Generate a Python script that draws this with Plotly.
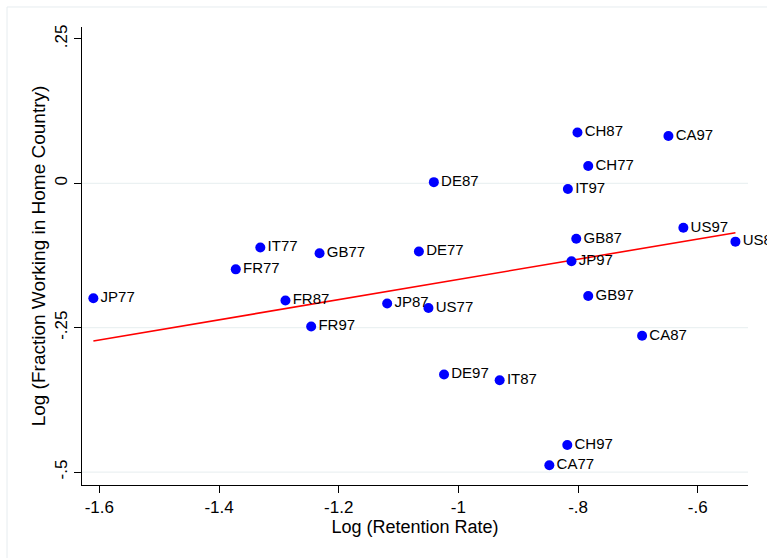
import plotly.graph_objects as go

# Country-year observations
labels = ["JP77", "JP87", "JP97",
          "FR77", "FR87", "FR97",
          "IT77", "IT87", "IT97",
          "GB77", "GB87", "GB97",
          "DE77", "DE87", "DE97",
          "US77", "US87", "US97",
          "CH77", "CH87", "CH97",
          "CA77", "CA87", "CA97"]
log_retention = [-1.610, -1.119, -0.811,
                 -1.372, -1.289, -1.246,
                 -1.331, -0.931, -0.817,
                 -1.232, -0.803, -0.783,
                 -1.066, -1.041, -1.024,
                 -1.050, -0.537, -0.624,
                 -0.783, -0.801, -0.818,
                 -0.848, -0.693, -0.649]
log_fraction_home = [-0.199, -0.208, -0.135,
                     -0.149, -0.203, -0.248,
                     -0.111, -0.341, -0.010,
                     -0.121, -0.096, -0.195,
                     -0.118, 0.002, -0.331,
                     -0.216, -0.101, -0.077,
                     0.030, 0.088, -0.453,
                     -0.488, -0.264, 0.082]

# Fitted regression line, evaluated at the ends of the data range
fit_x = [-1.610, -0.537]
fit_y = [-0.273, -0.0855]

x_ticks = [-1.6, -1.4, -1.2, -1.0, -0.8, -0.6]
x_tick_text = ["-1.6", "-1.4", "-1.2", "-1", "-.8", "-.6"]
y_ticks = [0.25, 0.0, -0.25, -0.5]
y_tick_text = [".25", "0", "-.25", "-.5"]
grid_values = [0.0, -0.25, -0.5]

FONT = "Liberation Sans, Arial, sans-serif"

fig = go.Figure()
fig.add_trace(go.Scatter(
    x=fit_x, y=fit_y, mode="lines",
    line=dict(color="#ff0000", width=1.6),
    hoverinfo="skip", showlegend=False,
))
fig.add_trace(go.Scatter(
    x=log_retention, y=log_fraction_home, mode="markers+text",
    text=labels, textposition="middle right",
    textfont=dict(family=FONT, size=15, color="#000000"),
    marker=dict(color="#0000ff", size=10, line=dict(width=0)),
    cliponaxis=False, showlegend=False,
))

for g in grid_values:
    fig.add_shape(type="line", xref="paper", yref="y", x0=0, x1=1, y0=g, y1=g,
                  line=dict(color="#e6eeef", width=1), layer="below")

# outer graph-region frame
fig.add_shape(type="rect", xref="paper", yref="paper",
              x0=-0.1126, x1=1.2, y0=-0.3, y1=1.0437,
              line=dict(color="#e6ecef", width=1), layer="below")

fig.update_layout(
    width=767, height=558,
    margin=dict(l=82, r=19, t=27, b=73),
    paper_bgcolor="white", plot_bgcolor="white",
    font=dict(family=FONT, color="#000000"),
    xaxis=dict(
        range=[-1.629, -0.516], tickvals=x_ticks, ticktext=x_tick_text,
        ticks="outside", ticklen=7, tickcolor="#000000", tickwidth=1,
        showline=True, linecolor="#000000", linewidth=1,
        showgrid=False, zeroline=False,
        tickfont=dict(size=17),
        title=dict(text="Log (Retention Rate)", font=dict(size=18), standoff=0),
    ),
    yaxis=dict(
        range=[-0.5223, 0.2706], tickvals=y_ticks, ticktext=y_tick_text,
        tickangle=-90,
        ticks="outside", ticklen=7, tickcolor="#000000", tickwidth=1,
        showline=True, linecolor="#000000", linewidth=1,
        showgrid=False, zeroline=False,
        tickfont=dict(size=17),
        title=dict(text="Log (Fraction Working in Home Country)", font=dict(size=19), standoff=1),
    ),
)

fig.write_html("out.html")
